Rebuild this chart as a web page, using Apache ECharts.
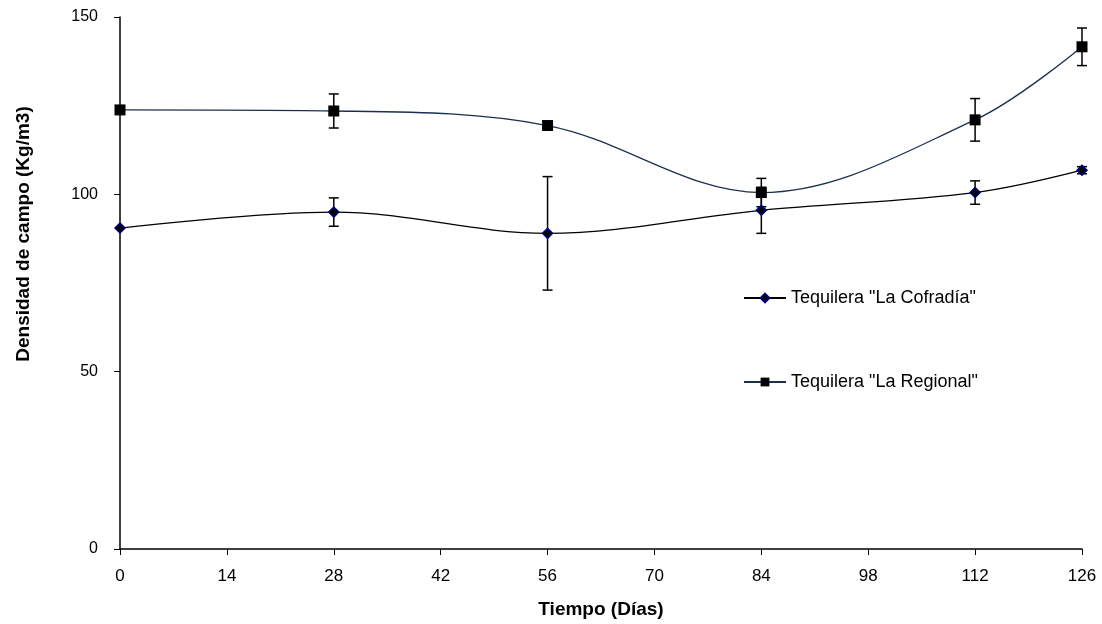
<!DOCTYPE html>
<html>
<head>
<meta charset="utf-8">
<script src="https://cdn.jsdelivr.net/npm/echarts@6/dist/echarts.min.js"></script>
<style>
  html, body { margin: 0; padding: 0; background: #fff; }
  #chart { width: 1102px; height: 624px; }
</style>
</head>
<body>
<div id="chart"></div>
<script>
// datos
var dias = [0, 28, 56, 84, 112, 126];
var cofradia = [90.5, 95, 89, 95.5, 100.5, 106.8];
var cofradiaErr = [0, 4, 16, 6.5, 3.3, 1];
var regional = [123.8, 123.5, 119.4, 100.5, 121, 141.6];
var regionalErr = [0, 4.8, 0, 4, 6, 5.3];

var nombreA = 'Tequilera "La Cofradía"';
var nombreB = 'Tequilera "La Regional"';

function pares(xs, ys) {
    return xs.map(function(x, i) { return [x, ys[i]]; });
}

function barrasError(xs, ys, errs) {
    return xs.map(function(x, i) { return [x, ys[i] - errs[i], ys[i] + errs[i]]; });
}

// dibuja las barras de error con sus topes
function renderError(params, api) {
    var lo = api.coord([api.value(0), api.value(1)]);
    var hi = api.coord([api.value(0), api.value(2)]);
    if (Math.abs(lo[1] - hi[1]) < 1) return null;
    var w = 5;
    var st = { stroke: '#000', lineWidth: 1.5 };
    return {
        type: 'group',
        children: [
            { type: 'line', shape: { x1: lo[0], y1: lo[1], x2: hi[0], y2: hi[1] }, style: st },
            { type: 'line', shape: { x1: lo[0] - w, y1: lo[1], x2: lo[0] + w, y2: lo[1] }, style: st },
            { type: 'line', shape: { x1: hi[0] - w, y1: hi[1], x2: hi[0] + w, y2: hi[1] }, style: st }
        ]
    };
}

var chart = echarts.init(document.getElementById('chart'));

var option = {
    animation: false,
    textStyle: { fontFamily: 'Liberation Sans, Arial, sans-serif' },
    grid: { left: 120, right: 20, top: 17, bottom: 75, outerBoundsMode: 'none', containLabel: false },
    legend: {
        orient: 'vertical',
        left: 738,
        top: 283,
        itemGap: 64,
        itemWidth: 42,
        itemHeight: 11,
        data: [nombreA, nombreB],
        textStyle: { fontSize: 18, color: '#000', lineHeight: 20, fontFamily: 'Liberation Sans, Arial, sans-serif' }
    },
    xAxis: {
        type: 'value',
        min: 0,
        max: 126,
        interval: 14,
        name: 'Tiempo (Días)',
        nameLocation: 'middle',
        nameGap: 51,
        nameTextStyle: { fontSize: 19, fontWeight: 'bold', color: '#000' },
        axisLine: { lineStyle: { color: '#000', width: 1.5 } },
        axisTick: { inside: false, length: 6, lineStyle: { color: '#000' } },
        axisLabel: { fontSize: 17, color: '#000', margin: 19 },
        splitLine: { show: false }
    },
    yAxis: {
        type: 'value',
        min: 0,
        max: 150,
        interval: 50,
        name: 'Densidad de campo (Kg/m3)',
        nameLocation: 'middle',
        nameGap: 87,
        nameRotate: 90,
        nameTextStyle: { fontSize: 19, fontWeight: 'bold', color: '#000', padding: [0, 0, 0, 98] },
        axisLine: { show: true, lineStyle: { color: '#000', width: 1.5 } },
        axisTick: { show: true, length: 6, lineStyle: { color: '#000' } },
        axisLabel: { fontSize: 16, color: '#000', margin: 22 },
        splitLine: { show: false }
    },
    series: [
        {
            name: nombreA + ' err',
            type: 'custom',
            renderItem: renderError,
            data: barrasError(dias, cofradia, cofradiaErr),
            z: 3
        },
        {
            name: nombreB + ' err',
            type: 'custom',
            renderItem: renderError,
            data: barrasError(dias, regional, regionalErr),
            z: 3
        },
        {
            name: nombreA,
            type: 'line',
            smooth: 0.35,
            data: pares(dias, cofradia),
            symbol: 'diamond',
            symbolSize: 10,
            lineStyle: { color: '#000', width: 1.3 },
            itemStyle: { color: '#000', borderColor: '#000080', borderWidth: 1.5 },
            z: 4
        },
        {
            name: nombreB,
            type: 'line',
            smooth: 0.35,
            data: pares(dias, regional),
            symbol: 'rect',
            symbolSize: 11,
            lineStyle: { color: '#1c2f4f', width: 1.3 },
            itemStyle: { color: '#000', borderColor: '#000', borderWidth: 0 },
            z: 4
        }
    ]
};

chart.setOption(option);
</script>
</body>
</html>
